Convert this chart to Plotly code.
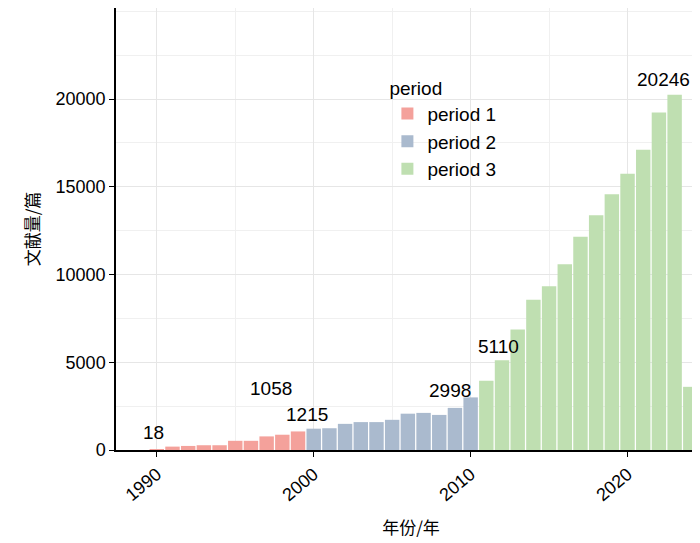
import plotly.graph_objects as go

years1 = [1990,1991,1992,1993,1994,1995,1996,1997,1998,1999]
vals1 = [18,194,232,271,271,523,523,775,871,1058]
years2 = [2000,2001,2002,2003,2004,2005,2006,2007,2008,2009,2010]
vals2 = [1215,1240,1490,1590,1590,1720,2070,2115,2000,2400,2998]
years3 = [2011,2012,2013,2014,2015,2016,2017,2018,2019,2020,2021,2022,2023,2024]
vals3 = [3940,5110,6870,8560,9330,10580,12150,13380,14580,15750,17110,19230,20246,3600]
yticks = [0,5000,10000,15000,20000]
xticks = [1990,2000,2010,2020]
labels = [("18",1989.8,1000),("1058",1997.3,3500),("1215",1999.6,2000),
          ("2998",2008.7,3400),("5110",2011.8,5900),("20246",2022.3,21100)]

colors = ["#F4A19B","#AABACE","#BFDFB1"]
fig = go.Figure()
for name,x,y,c in [("period 1",years1,vals1,colors[0]),("period 2",years2,vals2,colors[1]),("period 3",years3,vals3,colors[2])]:
    fig.add_trace(go.Bar(x=x,y=y,name=name,marker=dict(color=c,line=dict(width=0))))
for t,x,y in labels:
    fig.add_annotation(x=x,y=y,text=t,showarrow=False,font=dict(size=19,color="black"))
ax = dict(showline=True,linecolor="black",linewidth=1.5,mirror=True,ticks="outside",automargin=False,
          tickcolor="black",gridcolor="#E6E6E6",zeroline=False,tickfont=dict(size=18,color="black"))
fig.update_layout(
    width=700,height=543,plot_bgcolor="white",paper_bgcolor="white",
    margin=dict(l=108,r=2,t=0,b=101),bargap=0.08,barmode="overlay",
    font=dict(family="Liberation Sans, Arial, sans-serif",color="black"),
    xaxis=dict(ax,range=[1987.4,2025],tickvals=xticks,ticktext=[str(v) for v in xticks],tickangle=-40,
               minor=dict(dtick=5,tick0=1990,showgrid=True,gridcolor="#F0F0F0"),
               title=dict(text="年份/年",font=dict(family="Noto Sans CJK SC",size=17),standoff=18)),
    yaxis=dict(ax,range=[0,25190],tickvals=yticks,ticktext=[str(v) for v in yticks],
               minor=dict(dtick=2500,showgrid=True,gridcolor="#F0F0F0"),
               title=dict(text="文献量/篇",font=dict(family="Noto Sans CJK SC",size=17),standoff=12)),
    legend=dict(x=0.46,y=0.86,xanchor="left",yanchor="top",bgcolor="rgba(0,0,0,0)",tracegroupgap=0,
                title=dict(text="period",font=dict(size=19)),font=dict(size=19),itemwidth=30),
)
fig.write_html("out.html")
